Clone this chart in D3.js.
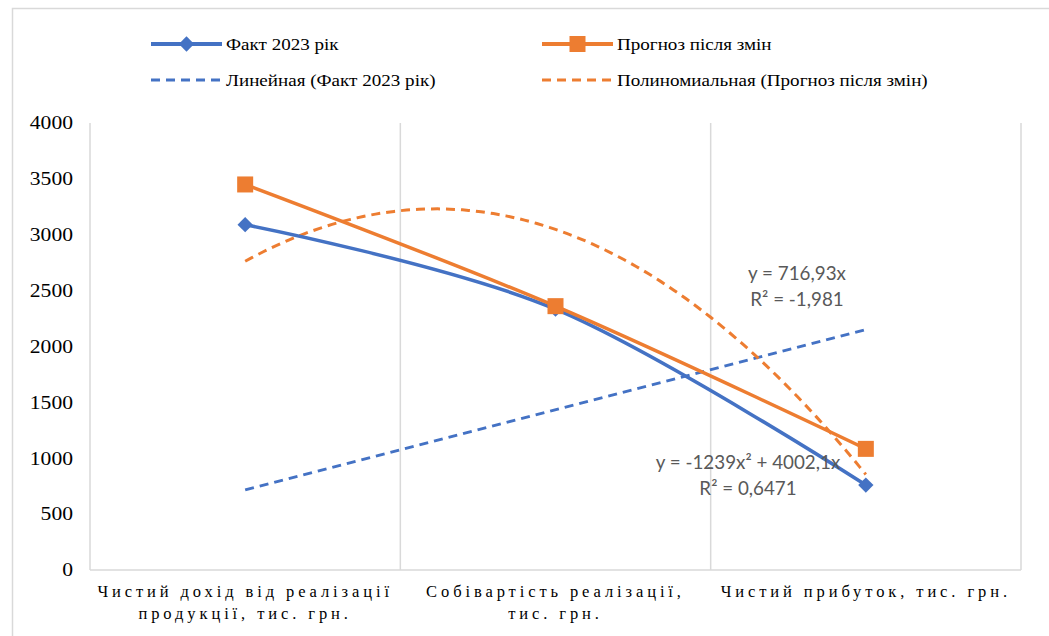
<!DOCTYPE html>
<html>
<head>
<meta charset="utf-8">
<script src="https://cdn.jsdelivr.net/npm/d3@7"></script>
<style>
  html, body { margin: 0; padding: 0; background: #fff; }
  svg { display: block; }
</style>
</head>
<body>
<svg id="chart" width="1049" height="636"></svg>
<script>
// Категорії та значення рядів
const categories = [
  ["Чистий дохід від реалізації", "продукції, тис. грн."],
  ["Собівартість реалізації,", "тис. грн."],
  ["Чистий прибуток, тис. грн."]
];
const factValues = [3090, 2334, 760];
const forecastValues = [3450, 2361, 1084];
const yTicks = [0, 500, 1000, 1500, 2000, 2500, 3000, 3500, 4000];
const seriesNames = ["Факт 2023 рік", "Прогноз після змін"];
const trendNames = ["Линейная (Факт 2023 рік)", "Полиномиальная (Прогноз після змін)"];
const trendLabels = [["y = 716,93x", "R² = -1,981"], ["y = -1239x² + 4002,1x", "R² = 0,6471"]];

const blue = "#4472C4";
const orange = "#ED7D31";
const grid = "#D9D9D9";
const SERIF = "Liberation Serif";
const SANS = "Lato";
const STRETCH = 1.2;        // горизонтальне розтягнення підписів осі Y
const LEGEND_STRETCH = 1.09; // горизонтальне розтягнення тексту легенди

const svg = d3.select("#chart");

// Рамка області діаграми
svg.append("rect")
  .attr("x", 12.5).attr("y", 8.5)
  .attr("width", 1100).attr("height", 700)
  .attr("fill", "none").attr("stroke", grid).attr("stroke-width", 1.5);

const plot = { left: 90, right: 1021, top: 123, bottom: 570 };

const x = d3.scaleBand().domain(d3.range(categories.length))
  .range([plot.left, plot.right]).padding(0);
const xc = i => x(i) + x.bandwidth() / 2;
const y = d3.scaleLinear().domain([0, 4000]).range([plot.bottom, plot.top]);
// позиція для дробового номера категорії (1..3) — для ліній тренду
const xPos = d3.scaleLinear().domain([1, 3]).range([xc(0), xc(2)]);

// Вертикальні лінії сітки на межах категорій
const bounds = d3.range(categories.length + 1).map(i => i < categories.length ? x(i) : plot.right);
svg.append("g").selectAll("line").data(bounds).join("line")
  .attr("x1", d => d).attr("x2", d => d)
  .attr("y1", plot.top).attr("y2", plot.bottom)
  .attr("stroke", grid).attr("stroke-width", 1.5);

// Вісь X
svg.append("line")
  .attr("x1", plot.left).attr("x2", plot.right)
  .attr("y1", plot.bottom).attr("y2", plot.bottom)
  .attr("stroke", grid).attr("stroke-width", 1.5);

// Вісь Y (лише підписи)
const yAxis = d3.axisLeft(y).tickValues(yTicks).tickFormat(d3.format("d"))
  .tickSize(0).tickPadding(17);
const gy = svg.append("g").attr("transform", `translate(${plot.left},0)`).call(yAxis);
gy.attr("font-family", SERIF).attr("font-size", 18);
gy.select(".domain").remove();
gy.selectAll("text")
  .attr("font-family", SERIF).attr("font-size", 18).attr("fill", "#000")
  .attr("x", -17 / STRETCH)
  .attr("transform", `scale(${STRETCH},1)`);

// Підписи категорій
const catG = svg.append("g");
categories.forEach((lines, i) => {
  const t = catG.append("text")
    .attr("x", xc(i)).attr("y", 597)
    .attr("text-anchor", "middle")
    .attr("font-family", SERIF).attr("font-size", 16.5)
    .attr("letter-spacing", "3.9")
    .attr("fill", "#000");
  lines.forEach((ln, k) => {
    t.append("tspan").attr("x", xc(i)).attr("dy", k === 0 ? 0 : 22).text(ln);
  });
});

// Лінійний тренд через початок координат: y = b·x
const xs = factValues.map((_, i) => i + 1);
const bLin = d3.sum(xs, (v, i) => v * factValues[i]) / d3.sum(xs, v => v * v);

// Поліноміальний тренд 2-го ступеня через початок координат: y = a·x² + b·x
const s4 = d3.sum(xs, v => v ** 4), s3 = d3.sum(xs, v => v ** 3), s2 = d3.sum(xs, v => v ** 2);
const r2 = d3.sum(xs, (v, i) => v * v * forecastValues[i]);
const r1 = d3.sum(xs, (v, i) => v * forecastValues[i]);
const det = s4 * s2 - s3 * s3;
const aPoly = (r2 * s2 - s3 * r1) / det;
const bPoly = (s4 * r1 - s3 * r2) / det;

const trendLine = d3.line().x(d => xPos(d[0])).y(d => y(d[1]));

// Лінійна лінія тренду
svg.append("path")
  .datum([[1, bLin], [3, 3 * bLin]])
  .attr("d", trendLine)
  .attr("fill", "none").attr("stroke", blue).attr("stroke-width", 3)
  .attr("stroke-dasharray", "9,6");

// Поліноміальна лінія тренду
const polyPts = d3.range(1, 3.0001, 0.02).map(t => [t, aPoly * t * t + bPoly * t]);
svg.append("path")
  .datum(polyPts)
  .attr("d", trendLine)
  .attr("fill", "none").attr("stroke", orange).attr("stroke-width", 3)
  .attr("stroke-dasharray", "9,6");

// Згладжені лінії рядів
const smooth = d3.line().x((d, i) => xc(i)).y(d => y(d)).curve(d3.curveCardinal.tension(0));
svg.append("path").datum(factValues).attr("d", smooth)
  .attr("fill", "none").attr("stroke", blue).attr("stroke-width", 3.5);
svg.append("path").datum(forecastValues).attr("d", smooth)
  .attr("fill", "none").attr("stroke", orange).attr("stroke-width", 3.5);

// Маркери
const diamond = d3.symbol().type(d3.symbolDiamond2).size(150);
svg.append("g").selectAll("path").data(factValues).join("path")
  .attr("transform", (d, i) => `translate(${xc(i)},${y(d)})`)
  .attr("d", diamond).attr("fill", blue);
svg.append("g").selectAll("rect").data(forecastValues).join("rect")
  .attr("x", (d, i) => xc(i) - 8).attr("y", d => y(d) - 8)
  .attr("width", 16).attr("height", 16).attr("fill", orange);

// Рівняння ліній тренду
const eqPos = [[797, 280], [748, 469]];
trendLabels.forEach((lines, k) => {
  lines.forEach((ln, j) => {
    svg.append("text")
      .attr("x", eqPos[k][0]).attr("y", eqPos[k][1] + j * 26)
      .attr("text-anchor", "middle")
      .attr("font-family", SANS).attr("font-size", 18.8)
      .attr("fill", "#595959")
      .text(ln);
  });
});

// Легенда
const legend = svg.append("g");
const legendItems = [
  { name: seriesNames[0], color: blue, dash: null, marker: "diamond", lx: 151, ly: 44 },
  { name: seriesNames[1], color: orange, dash: null, marker: "square", lx: 542, ly: 44 },
  { name: trendNames[0], color: blue, dash: "9,6", marker: null, lx: 151, ly: 80 },
  { name: trendNames[1], color: orange, dash: "9,6", marker: null, lx: 542, ly: 80 }
];
legendItems.forEach(it => {
  legend.append("line")
    .attr("x1", it.lx).attr("x2", it.lx + 71)
    .attr("y1", it.ly).attr("y2", it.ly)
    .attr("stroke", it.color).attr("stroke-width", it.dash ? 3.2 : 3.8)
    .attr("stroke-dasharray", it.dash);
  if (it.marker === "diamond") {
    legend.append("path")
      .attr("transform", `translate(${it.lx + 35.5},${it.ly})`)
      .attr("d", diamond).attr("fill", it.color);
  } else if (it.marker === "square") {
    legend.append("rect")
      .attr("x", it.lx + 35.5 - 8).attr("y", it.ly - 8)
      .attr("width", 16).attr("height", 16).attr("fill", it.color);
  }
  legend.append("text")
    .attr("transform", `translate(${it.lx + 75},${it.ly + 6}) scale(${LEGEND_STRETCH},1)`)
    .attr("font-family", SERIF).attr("font-size", 17.5)
    .attr("fill", "#000")
    .text(it.name);
});
</script>
</body>
</html>
